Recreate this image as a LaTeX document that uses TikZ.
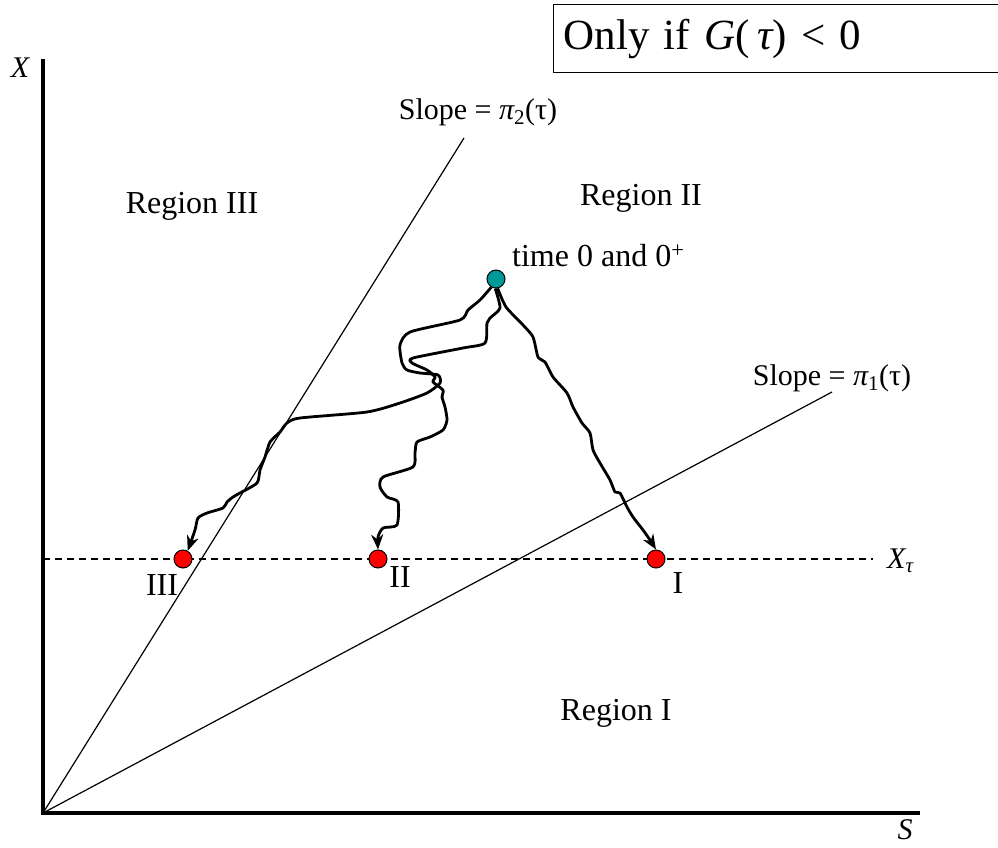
\documentclass[tikz,border=0pt]{standalone}
\usepackage{fontspec}
\setmainfont{Liberation Serif}
\usetikzlibrary{arrows.meta, positioning}
\definecolor{tuerkis}{HTML}{009999}
\definecolor{rot}{HTML}{FF0000}
\newcommand{\fsz}[1]{\fontsize{#1}{#1}\selectfont}

\begin{document}
\begin{tikzpicture}[x=1pt, y=-1pt,
    axis/.style={line width=4pt},
    slope/.style={line width=1.2pt},
    xline/.style={line width=2pt, dash pattern=on 7pt off 5pt},
    walk/.style={line width=2.8pt, line join=round,
                 -{Stealth[length=15pt, width=12pt]}},
    dot/.style={circle, draw, line width=1pt, minimum size=18pt,
                inner sep=0pt, fill=rot},
    lbl/.style={font=\fsz{32}, inner sep=1pt},
    slbl/.style={font=\fsz{30}, inner sep=1pt},
    axlbl/.style={font=\fsz{30}\itshape, inner sep=1pt}
  ]
  \useasboundingbox (0,0) rectangle (998,848);

  % -- Achsen --
  \coordinate (O)    at (43,813);
  \coordinate (Xtop) at (43,59);
  \coordinate (Send) at (920,813);
  \draw[axis] (Xtop) -- (O) -- (Send);
  \node[axlbl] (xlab) at (20,68)  {X};
  \node[axlbl] (slab) at (905,830) {S};

  % -- Steigungsgeraden --
  \coordinate (e2) at (464,138);
  \coordinate (e1) at (832,392);
  \draw[slope] (O) -- (e2);
  \draw[slope] (O) -- (e1);
  \node[slbl] (s2) at (478,112) {Slope = {\itshape π}\textsubscript{2}(τ)};
  \node[slbl] (s1) at (832,378) {Slope = {\itshape π}\textsubscript{1}(τ)};

  % -- Niveau X_tau --
  \coordinate (xl) at (43,559);
  \coordinate (xr) at (873,559);
  \draw[xline] (xl) -- (xr);
  \node[axlbl, anchor=west] (xtau) at (886,561) {X\textsubscript{τ}};

  % -- Punkte --
  \node[dot, fill=tuerkis] (t0)   at (496,279) {};
  \node[dot]               (pIII) at (183,559) {};
  \node[dot]               (pII)  at (378,559) {};
  \node[dot]               (pI)   at (656,559) {};
  \node[lbl] (lIII) at (162,585) {III};
  \node[lbl] (lII)  at (400,577) {II};
  \node[lbl] (lI)   at (678,583) {I};
  \node[lbl, anchor=west] (tlab) at (511,256) {time 0 and 0\textsuperscript{+}};

  % -- Regionen --
  \node[lbl] (r3) at (192,206) {Region III};
  \node[lbl] (r2) at (641,198) {Region II};
  \node[lbl] (r1) at (616,713) {Region I};

  % -- Pfade --
  \draw[walk] plot[smooth, tension=0.4] coordinates {
    (t0.-80) (506,307) (523,325) (533,337) (538,357) (545,362)
    (553,377) (567,393) (573,407) (582,423) (590,433) (593,450)
    (600,463) (610,480) (615,492) (620,493) (627,507) (633,517)
    (643,530) (650,540) (pI.north)};
  \draw[walk] plot[smooth, tension=0.4] coordinates {
    (t0.-95) (500,308) (490,318) (487,323) (485,343) (463,348)
    (413,358) (412,363) (427,370) (435,377) (433,382) (443,390)
    (442,397) (445,407) (447,420) (443,430) (430,437) (417,442)
    (415,453) (413,467) (383,477) (380,487) (387,497) (398,502)
    (397,525) (383,528) (378,537) (pII.north)};
  \draw[walk] plot[smooth, tension=0.4] coordinates {
    (t0.-120) (480,300) (468,310) (460,320) (410,332) (400,345)
    (402,363) (407,370) (420,373) (438,375) (440,383) (427,393)
    (400,403) (367,412) (300,418) (287,423) (280,432) (270,442)
    (265,457) (260,470) (257,483) (240,493) (233,497) (227,502)
    (223,508) (207,513) (198,518) (195,530) (pIII.60)};

  % -- Bedingung --
  \node[draw, line width=1.2pt, anchor=north west, minimum width=460pt,
        minimum height=68pt, text width=440pt, align=left, inner xsep=9pt,
        font=\fsz{43}] (cond) at (553,4)
        {Only if {\itshape G}(\,{\itshape τ}) < 0};
\end{tikzpicture}
\end{document}
